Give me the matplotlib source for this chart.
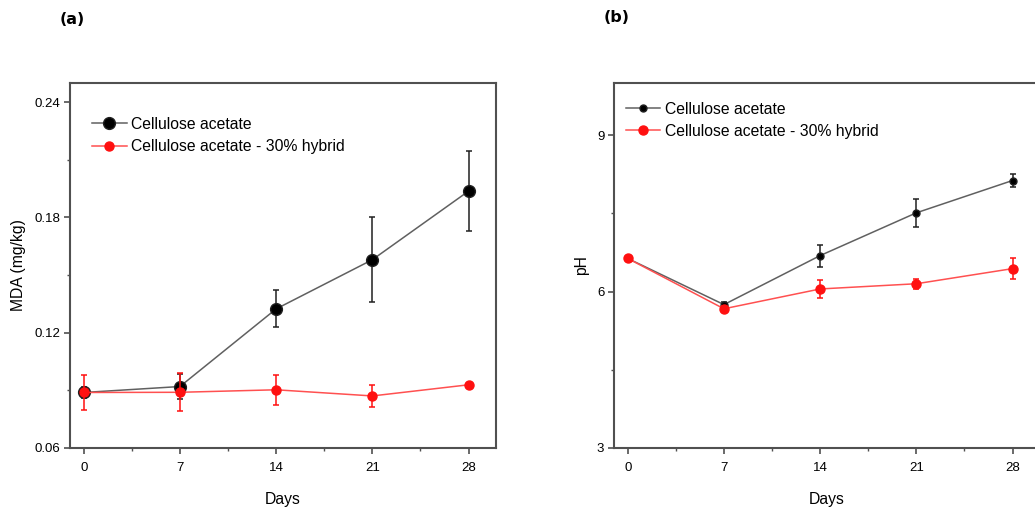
import matplotlib
matplotlib.use("Agg")
import matplotlib.pyplot as plt
from matplotlib.ticker import MultipleLocator
from matplotlib.lines import Line2D

plt.rcParams['font.family'] = ['Liberation Sans', 'DejaVu Sans']

days = [0, 7, 14, 21, 28]
labels = ["Cellulose acetate", "Cellulose acetate - 30% hybrid"]

# (a) MDA
mda_ca = [0.0889, 0.0920, 0.1324, 0.1580, 0.1937]
mda_ca_err = [0.003, 0.0065, 0.0096, 0.022, 0.021]
mda_hy = [0.0889, 0.0890, 0.0903, 0.0871, 0.0929]
mda_hy_err = [0.009, 0.0098, 0.0077, 0.0058, 0.001]

# (b) pH
ph_ca = [6.635, 5.75, 6.69, 7.51, 8.13]
ph_ca_err = [0.03, 0.05, 0.21, 0.27, 0.12]
ph_hy = [6.635, 5.67, 6.05, 6.15, 6.44]
ph_hy_err = [0.03, 0.06, 0.18, 0.10, 0.20]

fig = plt.figure(figsize=(10.35, 5.07), dpi=100)
W, H = 1035, 507
ax1 = fig.add_axes([70 / W, 1 - 448 / H, 426 / W, 365 / H])
ax2 = fig.add_axes([614 / W, 1 - 448 / H, 426 / W, 365 / H])

spine_col = '#505050'
gray_line = '#606060'
red = '#ff1010'
red_line = '#ff5050'


def draw(ax, y1, e1, y2, e2, ms1, ms2):
    ax.errorbar(days, y1, yerr=e1, color=gray_line, lw=1.1, marker='o', ms=ms1,
                mfc='black', mec='#202020', ecolor='#202020', elinewidth=1.1,
                capsize=2.2, capthick=1.1, zorder=3)
    ax.errorbar(days, y2, yerr=e2, color=red_line, lw=1.1, marker='o', ms=ms2,
                mfc=red, mec=red, ecolor=red, elinewidth=1.1,
                capsize=2.2, capthick=1.1, zorder=4)
    for s in ax.spines.values():
        s.set_color(spine_col)
        s.set_linewidth(1.5)
    ax.set_xlim(-1, 30)
    ax.xaxis.set_major_locator(MultipleLocator(7))
    ax.xaxis.set_minor_locator(MultipleLocator(3.5))
    ax.tick_params(which='major', direction='out', length=4, width=1.2,
                   color=spine_col, labelsize=9.5, pad=6)
    ax.tick_params(which='minor', direction='out', length=2.5, width=1.0,
                   color=spine_col)
    ax.tick_params(axis='y', which='major', pad=3)
    ax.set_xlabel('Days', fontsize=11.3, labelpad=13)
    handles = [
        Line2D([], [], color=gray_line, lw=1.1, marker='o', ms=ms1,
               mfc='black', mec='#202020'),
        Line2D([], [], color=red_line, lw=1.1, marker='o', ms=ms2,
               mfc=red, mec=red),
    ]
    return handles


h1 = draw(ax1, mda_ca, mda_ca_err, mda_hy, mda_hy_err, 8.5, 6.5)
ax1.set_ylim(0.06, 0.25)
ax1.set_yticks([0.06, 0.12, 0.18, 0.24])
ax1.set_yticklabels(['0.06', '0.12', '0.18', '0.24'])
ax1.yaxis.set_minor_locator(MultipleLocator(0.03))
ax1.set_ylabel('MDA (mg/kg)', fontsize=11.3, labelpad=6)
ax1.legend(h1, labels, loc='upper left', bbox_to_anchor=(0.052, 0.908),
           frameon=False, fontsize=11.3, handlelength=2.2, handletextpad=0.3,
           labelspacing=0.5, borderpad=0, borderaxespad=0)

h2 = draw(ax2, ph_ca, ph_ca_err, ph_hy, ph_hy_err, 5, 6.5)
ax2.set_ylim(3, 10)
ax2.yaxis.set_major_locator(MultipleLocator(3))
ax2.yaxis.set_minor_locator(MultipleLocator(1.5))
ax2.set_ylabel('pH', fontsize=11.3, labelpad=6)
ax2.legend(h2, labels, loc='upper left', bbox_to_anchor=(0.027, 0.948),
           frameon=False, fontsize=11.3, handlelength=2.2, handletextpad=0.3,
           labelspacing=0.42, borderpad=0, borderaxespad=0)

fig.text(60 / W, 1 - 20 / H, '(a)', fontsize=11.5, fontweight='bold',
         family='DejaVu Sans', va='center', ha='left')
fig.text(604 / W, 1 - 18 / H, '(b)', fontsize=11.5, fontweight='bold',
         family='DejaVu Sans', va='center', ha='left')

fig.savefig('out.png', dpi=100)
